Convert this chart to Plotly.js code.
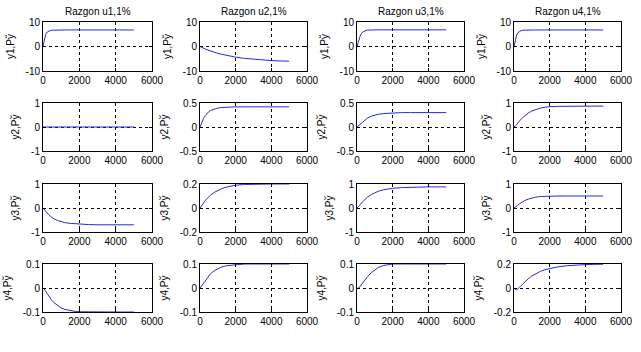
<!DOCTYPE html>
<html>
<head>
<meta charset="utf-8">
<script src="https://cdn.plot.ly/plotly-3.0.1.min.js"></script>
<style>html,body{margin:0;padding:0;background:#fff;}#chart{width:641px;height:352px;}</style>
</head>
<body>
<div id="chart"></div>
<script>
// time samples
var t = [0, 50, 100, 150, 200, 300, 400, 500, 600, 800, 1000, 1200, 1500, 1800, 2000, 2500, 3000, 3500, 4000, 4500, 5000];

// column titles
var colTitles = ["Razgon u1,1%", "Razgon u2,1%", "Razgon u3,1%", "Razgon u4,1%"];
// row (output) labels
var rowLabels = ["y1,Рў", "y2,Рў", "y3,Рў", "y4,Рў"];

// output y1
var y1_u1 = [0, 2.2, 3.9, 5.0, 5.7, 6.3, 6.55, 6.65, 6.7, 6.75, 6.75, 6.75, 6.75, 6.75, 6.75, 6.75, 6.75, 6.75, 6.75, 6.75, 6.75];
var y1_u2 = [0, -0.2, -0.4, -0.55, -0.75, -1.05, -1.35, -1.6, -1.9, -2.35, -2.8, -3.15, -3.65, -4.1, -4.35, -4.85, -5.25, -5.55, -5.75, -5.9, -6.0];
var y1_u3 = [0, 1.5, 2.9, 4.0, 4.8, 5.8, 6.3, 6.55, 6.7, 6.8, 6.8, 6.8, 6.8, 6.8, 6.8, 6.8, 6.8, 6.8, 6.8, 6.8, 6.8];
var y1_u4 = [0, 2.0, 3.6, 4.7, 5.5, 6.2, 6.5, 6.65, 6.7, 6.75, 6.75, 6.75, 6.75, 6.75, 6.75, 6.75, 6.75, 6.75, 6.75, 6.75, 6.75];
// output y2
var y2_u1 = [0, 0, 0, 0, 0, 0, 0, 0, 0, 0, 0, 0, 0, 0, 0, 0, 0, 0, 0, 0, 0];
var y2_u2 = [0, 0.05, 0.1, 0.14, 0.18, 0.24, 0.29, 0.32, 0.345, 0.375, 0.395, 0.405, 0.415, 0.42, 0.42, 0.42, 0.42, 0.42, 0.42, 0.42, 0.42];
var y2_u3 = [0, 0.015, 0.035, 0.055, 0.075, 0.11, 0.14, 0.165, 0.19, 0.225, 0.25, 0.265, 0.28, 0.29, 0.295, 0.3, 0.3, 0.3, 0.3, 0.3, 0.3];
var y2_u4 = [0, 0.02, 0.06, 0.11, 0.16, 0.25, 0.33, 0.4, 0.47, 0.58, 0.67, 0.73, 0.79, 0.83, 0.85, 0.86, 0.87, 0.87, 0.87, 0.87, 0.87];
// output y3
var y3_u1 = [0, -0.05, -0.1, -0.15, -0.19, -0.27, -0.34, -0.4, -0.45, -0.52, -0.57, -0.61, -0.64, -0.66, -0.67, -0.69, -0.7, -0.7, -0.7, -0.7, -0.7];
var y3_u2 = [0, 0.012, 0.024, 0.035, 0.045, 0.063, 0.08, 0.095, 0.108, 0.13, 0.148, 0.16, 0.175, 0.185, 0.19, 0.196, 0.199, 0.2, 0.2, 0.2, 0.2];
var y3_u3 = [0, 0.03, 0.07, 0.11, 0.16, 0.25, 0.33, 0.4, 0.46, 0.56, 0.64, 0.7, 0.76, 0.8, 0.82, 0.85, 0.87, 0.88, 0.88, 0.88, 0.88];
var y3_u4 = [0, 0.02, 0.05, 0.08, 0.11, 0.17, 0.22, 0.27, 0.31, 0.37, 0.42, 0.45, 0.48, 0.495, 0.5, 0.5, 0.5, 0.5, 0.5, 0.5, 0.5];
// output y4
var y4_u1 = [0, -0.003, -0.008, -0.014, -0.02, -0.032, -0.043, -0.053, -0.061, -0.074, -0.083, -0.089, -0.095, -0.098, -0.099, -0.1, -0.1, -0.1, -0.1, -0.1, -0.1];
var y4_u2 = [0, 0.005, 0.01, 0.016, 0.022, 0.033, 0.043, 0.052, 0.06, 0.072, 0.081, 0.087, 0.093, 0.096, 0.098, 0.1, 0.1, 0.1, 0.1, 0.1, 0.1];
var y4_u3 = [0, -0.002, 0.0, 0.005, 0.01, 0.02, 0.03, 0.039, 0.048, 0.064, 0.077, 0.086, 0.094, 0.098, 0.1, 0.1, 0.1, 0.1, 0.1, 0.1, 0.1];
var y4_u4 = [0, -0.01, -0.016, -0.015, -0.01, 0.005, 0.02, 0.035, 0.05, 0.077, 0.1, 0.118, 0.14, 0.155, 0.163, 0.177, 0.186, 0.192, 0.195, 0.197, 0.198];

// x ticks
var xTickVals = [0, 2000, 4000, 6000];
var xTickText = ["0", "2000", "4000", "6000"];

// y tick sets per panel (row-major)
var yTickVals = [
  [-10, 0, 10], [-10, 0, 10], [-10, 0, 10], [-10, 0, 10],
  [-1, 0, 1], [-0.5, 0, 0.5], [-0.5, 0, 0.5], [-1, 0, 1],
  [-1, 0, 1], [-0.2, 0, 0.2], [-1, 0, 1], [-1, 0, 1],
  [-0.1, 0, 0.1], [-0.1, 0, 0.1], [-0.1, 0, 0.1], [-0.2, 0, 0.2]
];
var yTickText = [
  ["-10", "0", "10"], ["-10", "0", "10"], ["-10", "0", "10"], ["-10", "0", "10"],
  ["-1", "0", "1"], ["-0.5", "0", "0.5"], ["-0.5", "0", "0.5"], ["-1", "0", "1"],
  ["-1", "0", "1"], ["-0.2", "0", "0.2"], ["-1", "0", "1"], ["-1", "0", "1"],
  ["-0.1", "0", "0.1"], ["-0.1", "0", "0.1"], ["-0.1", "0", "0.1"], ["-0.2", "0", "0.2"]
];

var series = [
  y1_u1, y1_u2, y1_u3, y1_u4,
  y2_u1, y2_u2, y2_u3, y2_u4,
  y3_u1, y3_u2, y3_u3, y3_u4,
  y4_u1, y4_u2, y4_u3, y4_u4
];

var W = 641, H = 352;
var colPx = [[43, 152], [200, 307], [357, 464], [514, 621]];
var rowPx = [[22, 71], [103, 151], [184, 232], [264, 312]];

var font = {family: "Arial, 'Liberation Sans', sans-serif", size: 10, color: "#000"};

var traces = [];
var layout = {
  width: W, height: H,
  margin: {l: 0, r: 0, t: 0, b: 0},
  paper_bgcolor: "#fff", plot_bgcolor: "#fff",
  showlegend: false,
  font: font,
  annotations: []
};

for (var i = 0; i < 16; i++) {
  var r = Math.floor(i / 4), c = i % 4;
  var n = i + 1;
  var xa = n === 1 ? "x" : "x" + n;
  var ya = n === 1 ? "y" : "y" + n;
  traces.push({
    x: t, y: series[i], type: "scatter", mode: "lines",
    xaxis: xa, yaxis: ya,
    line: {color: "rgb(40,40,225)", width: 1},
    hoverinfo: "skip"
  });
  var yv = yTickVals[i];
  var common = {
    showline: true, mirror: "ticks", linecolor: "#000", linewidth: 1,
    ticks: "inside", ticklen: 3, tickcolor: "#000",
    showgrid: true, gridcolor: "#000", gridwidth: 1, griddash: "dot",
    zeroline: false, tickfont: font, fixedrange: true
  };
  layout["xaxis" + (n === 1 ? "" : n)] = Object.assign({}, common, {
    domain: [colPx[c][0] / W, colPx[c][1] / W],
    anchor: ya,
    range: [0, 6000],
    tickmode: "array", tickvals: xTickVals, ticktext: xTickText
  });
  layout["yaxis" + (n === 1 ? "" : n)] = Object.assign({}, common, {
    domain: [1 - rowPx[r][1] / H, 1 - rowPx[r][0] / H],
    anchor: xa,
    range: [yv[0], yv[2]],
    tickmode: "array", tickvals: yv, ticktext: yTickText[i],
    title: {text: rowLabels[r], font: font, standoff: 9}
  });
  if (r === 0) {
    layout.annotations.push({
      text: colTitles[c], xref: "paper", yref: "paper",
      x: (colPx[c][0] + colPx[c][1]) / 2 / W, y: 1 - 11 / H,
      xanchor: "center", yanchor: "middle", showarrow: false, font: font
    });
  }
}

Plotly.newPlot("chart", traces, layout, {staticPlot: true, displayModeBar: false});
</script>
</body>
</html>
